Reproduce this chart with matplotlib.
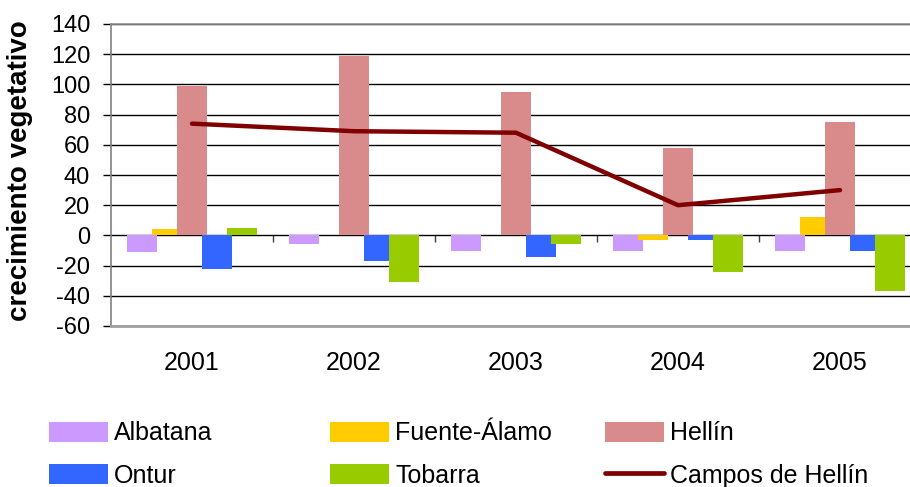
import numpy as np
import matplotlib
matplotlib.use("Agg")
import matplotlib.pyplot as plt
from matplotlib.patches import Patch
from matplotlib.lines import Line2D

plt.rcParams['font.family'] = ['Liberation Sans', 'DejaVu Sans']
plt.rcParams['axes.unicode_minus'] = False

years = ['2001', '2002', '2003', '2004', '2005']
series_names = ['Albatana', 'Fuente-Álamo', 'Hellín', 'Ontur', 'Tobarra']
albatana = [-11, -6, -10, -10, -10]
fuente_alamo = [4, 0, 0, -3, 12]
hellin = [99, 119, 95, 58, 75]
ontur = [-22, -17, -14, -3, -10]
tobarra = [5, -31, -6, -24, -37]
campos_name = 'Campos de Hellín'
campos = [74, 69, 68, 20, 30]

colors = ['#CC99FF', '#FFCC00', '#D98A8A', '#3366FF', '#99CC00']
line_color = '#800000'

FS_Y = 17
FS_X = 18
FS_LEG = 18
FS_LAB = 20

fig = plt.figure(figsize=(9.10, 4.87), dpi=100)
W, H = 910, 487
left_px, right_px, top_px, bot_px = 111, 921, 24, 326
ax = fig.add_axes([left_px / W, 1 - bot_px / H, (right_px - left_px) / W, (bot_px - top_px) / H])

x = np.arange(len(years))
step = 25 / 162
width = 30 / 162
all_series = [albatana, fuente_alamo, hellin, ontur, tobarra]
for i, (vals, c) in enumerate(zip(all_series, colors)):
    ax.bar(x + (i - 2) * step, vals, width=width, color=c, linewidth=0, zorder=3)

ax.plot(x, campos, color=line_color, lw=3.2, solid_capstyle='round', zorder=5)

ax.set_xlim(-0.5, len(years) - 0.5)
ax.set_ylim(-60, 140)
ax.set_yticks(np.arange(-60, 141, 20))
ax.yaxis.grid(True, color='black', lw=1.0, zorder=0)
ax.set_axisbelow(True)
ax.tick_params(axis='y', direction='out', length=6, width=1, color='black', pad=9, labelsize=FS_Y)
ax.set_xticks(x)
ax.set_xticklabels(years)
ax.tick_params(axis='x', length=0, pad=18, labelsize=FS_X)

ax.spines['right'].set_visible(False)
ax.spines['top'].set_color('#909090')
ax.spines['top'].set_linewidth(1.2)
ax.spines['left'].set_color('#808080')
ax.spines['left'].set_linewidth(1.2)
ax.spines['bottom'].set_color('#A0A0A0')
ax.spines['bottom'].set_linewidth(2.0)

# category separator ticks on the zero line
sec = ax.secondary_xaxis(60 / 200)
sec.set_xticks(np.arange(len(years) - 1) + 0.5)
sec.set_xticklabels([])
sec.tick_params(direction='out', length=5, width=1, color='#404040')
sec.spines['bottom'].set_visible(False)

ax.set_ylabel('crecimiento vegetativo', fontsize=FS_LAB, fontweight='bold')
ax.yaxis.set_label_coords((33 - left_px) / (right_px - left_px), (bot_px - 170.5) / (bot_px - top_px))

# legend: three columns, two rows
handles = [Patch(facecolor=c, edgecolor='none') for c in colors]
line_handle = Line2D([], [], color=line_color, lw=3.4, solid_capstyle='round')
columns = [
    ([handles[0], handles[3]], [series_names[0], series_names[3]], 49),
    ([handles[1], handles[4]], [series_names[1], series_names[4]], 330),
    ([handles[2], line_handle], [series_names[2], campos_name], 605),
]
em = FS_LEG * 100 / 72
for hs, labs, xpx in columns:
    fig.legend(hs, labs, loc='center left', bbox_to_anchor=(xpx / W, 1 - 454.5 / H),
               frameon=False, fontsize=FS_LEG, borderpad=0, borderaxespad=0,
               handlelength=59 / em, handleheight=0.85,
               handletextpad=0.24, labelspacing=0.73)

fig.savefig('out.png', dpi=100)
